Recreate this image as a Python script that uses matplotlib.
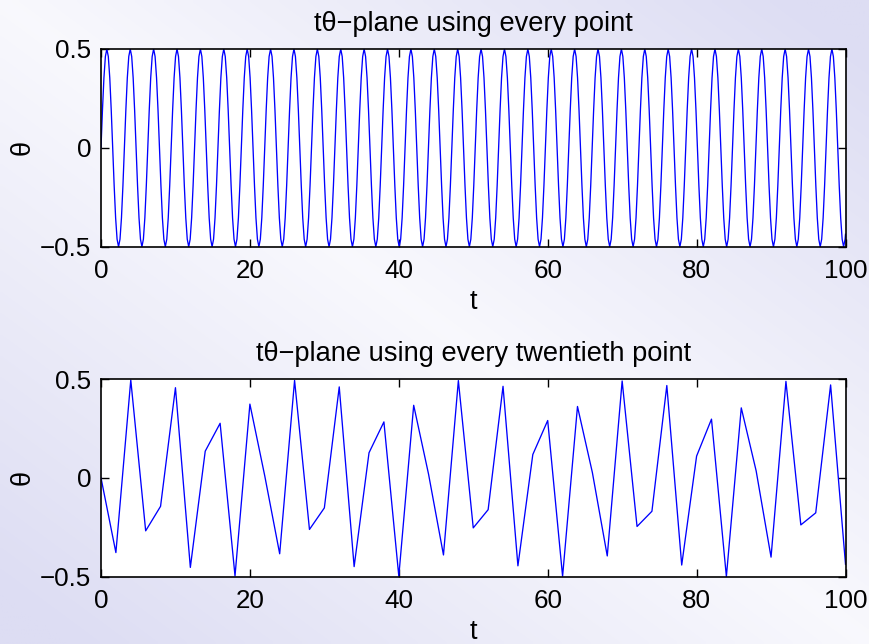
import math
import numpy as np
import matplotlib
matplotlib.use("Agg")
import matplotlib.pyplot as plt

plt.rcParams['font.family'] = ['Liberation Sans', 'DejaVu Sans']

# ---------------- data ----------------
# every point (sampled densely along the curve, read from the picture)
t_every = [k * math.pi / 16 for k in range(510)] + [100.0]
theta_every = [
    0, .191, .354, .462, .5, .462, .354, .191, 0, -.191, -.354, -.462, -.5, -.462, -.354, -.191,
    0, .191, .354, .462, .5, .462, .354, .191, 0, -.191, -.354, -.462, -.5, -.462, -.354, -.191,
    0, .191, .354, .462, .5, .462, .354, .191, 0, -.191, -.354, -.462, -.5, -.462, -.354, -.191,
    0, .191, .354, .462, .5, .462, .354, .191, 0, -.191, -.354, -.462, -.5, -.462, -.354, -.191,
    0, .191, .354, .462, .5, .462, .354, .191, 0, -.191, -.354, -.462, -.5, -.462, -.354, -.191,
    0, .191, .354, .462, .5, .462, .354, .191, 0, -.191, -.354, -.462, -.5, -.462, -.354, -.191,
    0, .191, .354, .462, .5, .462, .354, .191, 0, -.191, -.354, -.462, -.5, -.462, -.354, -.191,
    0, .191, .354, .462, .5, .462, .354, .191, 0, -.191, -.354, -.462, -.5, -.462, -.354, -.191,
    0, .191, .354, .462, .5, .462, .354, .191, 0, -.191, -.354, -.462, -.5, -.462, -.354, -.191,
    0, .191, .354, .462, .5, .462, .354, .191, 0, -.191, -.354, -.462, -.5, -.462, -.354, -.191,
    0, .191, .354, .462, .5, .462, .354, .191, 0, -.191, -.354, -.462, -.5, -.462, -.354, -.191,
    0, .191, .354, .462, .5, .462, .354, .191, 0, -.191, -.354, -.462, -.5, -.462, -.354, -.191,
    0, .191, .354, .462, .5, .462, .354, .191, 0, -.191, -.354, -.462, -.5, -.462, -.354, -.191,
    0, .191, .354, .462, .5, .462, .354, .191, 0, -.191, -.354, -.462, -.5, -.462, -.354, -.191,
    0, .191, .354, .462, .5, .462, .354, .191, 0, -.191, -.354, -.462, -.5, -.462, -.354, -.191,
    0, .191, .354, .462, .5, .462, .354, .191, 0, -.191, -.354, -.462, -.5, -.462, -.354, -.191,
    0, .191, .354, .462, .5, .462, .354, .191, 0, -.191, -.354, -.462, -.5, -.462, -.354, -.191,
    0, .191, .354, .462, .5, .462, .354, .191, 0, -.191, -.354, -.462, -.5, -.462, -.354, -.191,
    0, .191, .354, .462, .5, .462, .354, .191, 0, -.191, -.354, -.462, -.5, -.462, -.354, -.191,
    0, .191, .354, .462, .5, .462, .354, .191, 0, -.191, -.354, -.462, -.5, -.462, -.354, -.191,
    0, .191, .354, .462, .5, .462, .354, .191, 0, -.191, -.354, -.462, -.5, -.462, -.354, -.191,
    0, .191, .354, .462, .5, .462, .354, .191, 0, -.191, -.354, -.462, -.5, -.462, -.354, -.191,
    0, .191, .354, .462, .5, .462, .354, .191, 0, -.191, -.354, -.462, -.5, -.462, -.354, -.191,
    0, .191, .354, .462, .5, .462, .354, .191, 0, -.191, -.354, -.462, -.5, -.462, -.354, -.191,
    0, .191, .354, .462, .5, .462, .354, .191, 0, -.191, -.354, -.462, -.5, -.462, -.354, -.191,
    0, .191, .354, .462, .5, .462, .354, .191, 0, -.191, -.354, -.462, -.5, -.462, -.354, -.191,
    0, .191, .354, .462, .5, .462, .354, .191, 0, -.191, -.354, -.462, -.5, -.462, -.354, -.191,
    0, .191, .354, .462, .5, .462, .354, .191, 0, -.191, -.354, -.462, -.5, -.462, -.354, -.191,
    0, .191, .354, .462, .5, .462, .354, .191, 0, -.191, -.354, -.462, -.5, -.462, -.354, -.191,
    0, .191, .354, .462, .5, .462, .354, .191, 0, -.191, -.354, -.462, -.5, -.462, -.354, -.191,
    0, .191, .354, .462, .5, .462, .354, .191, 0, -.191, -.354, -.462, -.5, -.462, -.354, -.191,
    0, .191, .354, .462, .5, .462, .354, .191, 0, -.191, -.354, -.462, -.5, -.462,
    -.437,
]

# every twentieth point (t = 0, 2, 4, ..., 100)
t_twentieth = [2 * k for k in range(51)]
theta_twentieth = [
    0.000, -0.378, 0.495, -0.268, -0.144, 0.456, -0.453, 0.135, 0.276, -0.496,
    0.373, 0.009, -0.384, 0.493, -0.261, -0.152, 0.460, -0.449, 0.127, 0.283,
    -0.497, 0.367, 0.018, -0.390, 0.492, -0.253, -0.161, 0.463, -0.445, 0.118,
    0.290, -0.498, 0.361, 0.027, -0.395, 0.490, -0.246, -0.169, 0.467, -0.441,
    0.110, 0.297, -0.499, 0.354, 0.035, -0.401, 0.488, -0.238, -0.177, 0.470,
    -0.437,
]

titles = ["t\u03b8\u2212plane using every point",
          "t\u03b8\u2212plane using every twentieth point"]
x_ticks = [0, 20, 40, 60, 80, 100]
y_ticks = [-0.5, 0, 0.5]
y_ticklabels = ["\u22120.5", "0", "0.5"]

# ---------------- figure ----------------
W, H = 870, 644
fig = plt.figure(figsize=(W / 100, H / 100), dpi=100)

# background gradient (light lavender toward top-right and bottom-left)
bg = fig.add_axes([0, 0, 1, 1], zorder=-10)
u = np.linspace(0, 1, 200)[None, :]
v = np.linspace(0, 1, 150)[:, None]
s = np.clip(np.abs(u - v) * 1.0 + 0.08, 0, 1)
light = np.array([251, 251, 254]) / 255.0
dark = np.array([221, 221, 243]) / 255.0
img = light[None, None, :] * (1 - s[..., None]) + dark[None, None, :] * s[..., None]
bg.imshow(img, aspect='auto', extent=[0, 1, 1, 0], interpolation='bilinear')
bg.set_axis_off()

fs_tick = 18.7
fs_title = 19.6
positions = [[101 / W, (H - 246.7) / H, 744.5 / W, 197.7 / H],
             [101 / W, (H - 576.7) / H, 744.5 / W, 197.7 / H]]
data = [(t_every, theta_every), (t_twentieth, theta_twentieth)]

for pos, (tt, th), title in zip(positions, data, titles):
    ax = fig.add_axes(pos)
    ax.set_facecolor('white')
    ax.plot(tt, th, color=(0, 0, 1), linewidth=0.95)
    ax.set_xlim(0, 100)
    ax.set_ylim(-0.5, 0.5)
    ax.set_xticks(x_ticks)
    ax.set_xticklabels([str(x) for x in x_ticks])
    ax.set_yticks(y_ticks)
    ax.set_yticklabels(y_ticklabels)
    ax.tick_params(direction='in', length=6, width=1, labelsize=fs_tick,
                   top=True, right=True, pad=7)
    ax.tick_params(axis='x', pad=9)
    for sp in ax.spines.values():
        sp.set_linewidth(1.2)
    ax.set_title(title, fontsize=fs_title, pad=13)
    ax.set_xlabel('t', fontsize=fs_title)
    ax.xaxis.set_label_coords(0.5, -0.215)
    ax.set_ylabel('\u03b8', fontsize=fs_title)
    ax.yaxis.set_label_coords(-0.0875, 0.5)

fig.savefig('out.png', dpi=100)
